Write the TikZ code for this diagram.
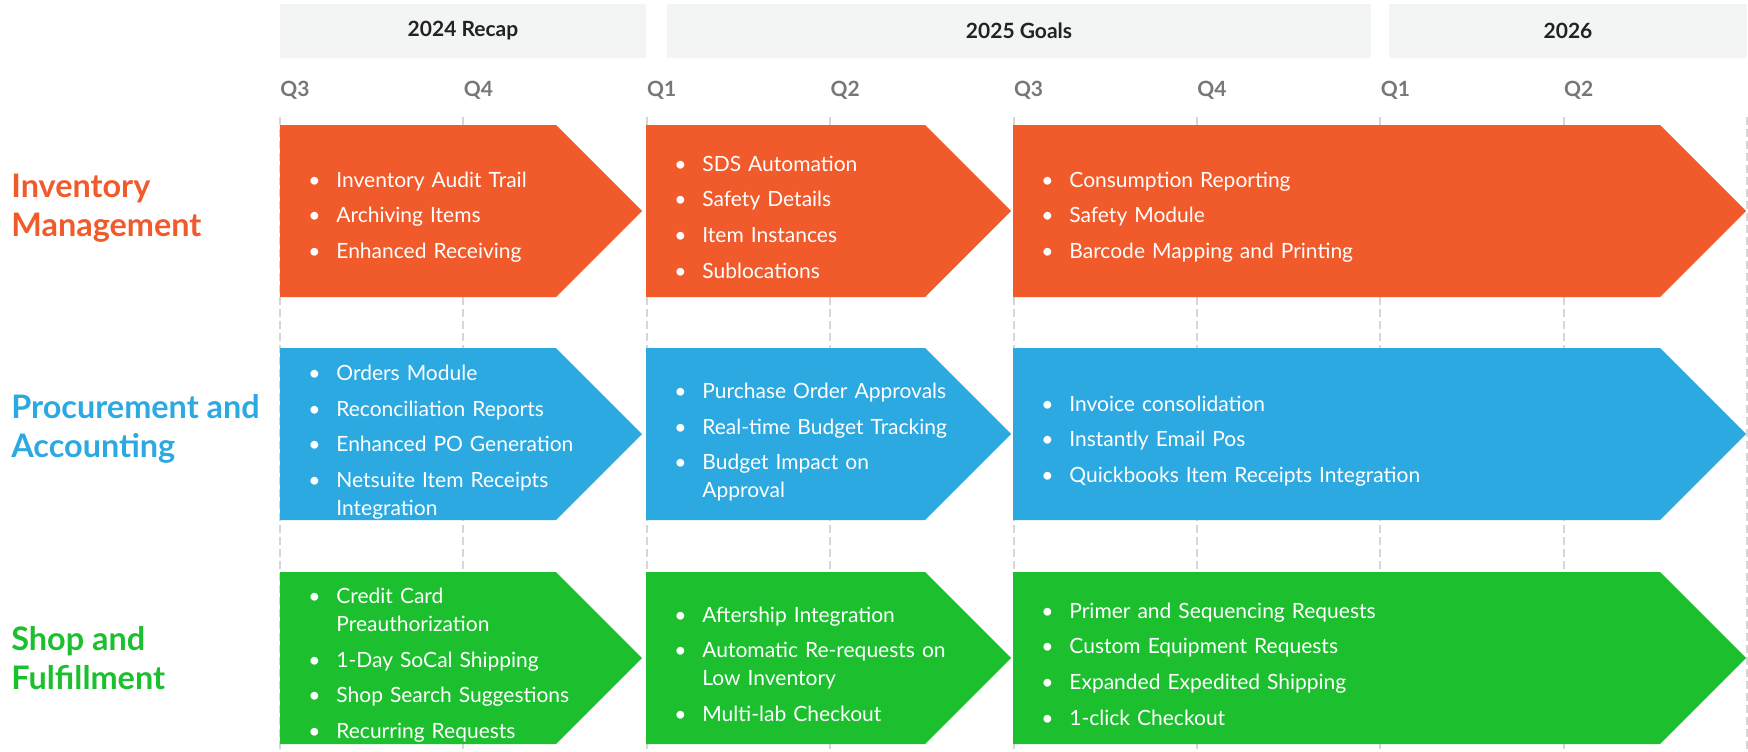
\documentclass[tikz,border=0pt]{standalone}
\usepackage{fontspec}
\setmainfont{Lato}
\usetikzlibrary{positioning}

\definecolor{invc}{HTML}{F15A2B}
\definecolor{procc}{HTML}{2DA9E1}
\definecolor{shopc}{HTML}{1CBF2E}
\definecolor{hdrfill}{HTML}{F3F4F4}
\definecolor{hdrtext}{HTML}{222222}
\definecolor{gridc}{HTML}{D6D6D6}
\definecolor{qgray}{HTML}{777777}

% one bullet item, \newline for a wrapped line
\newcommand{\itm}[1]{\par\setlength{\parskip}{3.8pt}\noindent\hangindent=14pt\hangafter=1\makebox[14pt][l]{\textbullet}#1\par}

\tikzset{
  items/.style={text=white,font=\fontsize{10.5}{14}\selectfont,text width=190pt,
                align=left,inner sep=0pt,anchor=west},
  lane/.style={text=#1,font=\bfseries\fontsize{16.2}{19.3}\selectfont,
               align=left,inner sep=0pt,anchor=west},
  hdr/.style={fill=hdrfill,text=hdrtext,font=\bfseries\fontsize{10.5}{12}\selectfont,
              minimum height=27pt,minimum width=#1,inner sep=0pt},
  qlbl/.style={text=qgray,font=\bfseries\fontsize{10.5}{12}\selectfont,inner sep=0pt,anchor=west},
  gridline/.style={draw=gridc,line width=1pt,dash pattern=on 4pt off 2pt},
}

\begin{document}
\begin{tikzpicture}[x=0.5pt,y=-0.5pt]
    \useasboundingbox (0,0) rectangle (1748,751);

    % quarter lines
    \foreach \k in {0,...,8}
        \draw[gridline] (280+183.4*\k,117) -- (280+183.4*\k,751);

    % year headers
    \node[hdr=183pt] (h24) at (463,31) {2024 Recap};
    \node[hdr=352pt] (h25) at (1019,31) {2025 Goals};
    \node[hdr=179pt] (h26) at (1568,31) {2026};

    % quarters
    \foreach \k/\q in {0/Q3,1/Q4,2/Q1,3/Q2,4/Q3,5/Q4,6/Q1,7/Q2}
        \node[qlbl] (q\k) at (280+183.4*\k,90) {\q};

    % chevrons
    \foreach \top/\col in {125/invc,348/procc,572/shopc}
        \foreach \l/\s in {280/556,646/925,1013/1660}
            \fill[\col] (\l,\top) -- (\s,\top) -- (\s+86,\top+86)
                -- (\s,\top+172) -- (\l,\top+172) -- cycle;

    % lanes
    \node[lane=invc] (lInv) at (11,208) {Inventory\\Management};
    \node[lane=procc] (lProc) at (11,429) {Procurement and\\Accounting};
    \node[lane=shopc] (lShop) at (11,658) {Shop and\\Fulfillment};

    % inventory
    \node[items] (inv1) at (308,207) {\itm{Inventory Audit Trail}\itm{Archiving Items}\itm{Enhanced Receiving}};
    \node[items] (inv2) at (674,207) {\itm{SDS Automation}\itm{Safety Details}\itm{Item Instances}\itm{Sublocations}};
    \node[items] (inv3) at (1041,207) {\itm{Consumption Reporting}\itm{Safety Module}\itm{Barcode Mapping and Printing}};

    % procurement
    \node[items] (proc1) at (308,432) {\itm{Orders Module}\itm{Reconciliation Reports}\itm{Enhanced PO Generation}\itm{Netsuite Item Receipts\newline Integration}};
    \node[items] (proc2) at (674,432) {\itm{Purchase Order Approvals}\itm{Real-time Budget Tracking}\itm{Budget Impact on\newline Approval}};
    \node[items] (proc3) at (1041,431) {\itm{Invoice consolidation}\itm{Instantly Email Pos}\itm{Quickbooks Item Receipts Integration}};

    % shop
    \node[items] (shop1) at (308,655) {\itm{Credit Card\newline Preauthorization}\itm{1-Day SoCal Shipping}\itm{Shop Search Suggestions}\itm{Recurring Requests}};
    \node[items] (shop2) at (674,654) {\itm{Aftership Integration}\itm{Automatic Re-requests on\newline Low Inventory}\itm{Multi-lab Checkout}};
    \node[items] (shop3) at (1041,654) {\itm{Primer and Sequencing Requests}\itm{Custom Equipment Requests}\itm{Expanded Expedited Shipping}\itm{1-click Checkout}};
\end{tikzpicture}
\end{document}
